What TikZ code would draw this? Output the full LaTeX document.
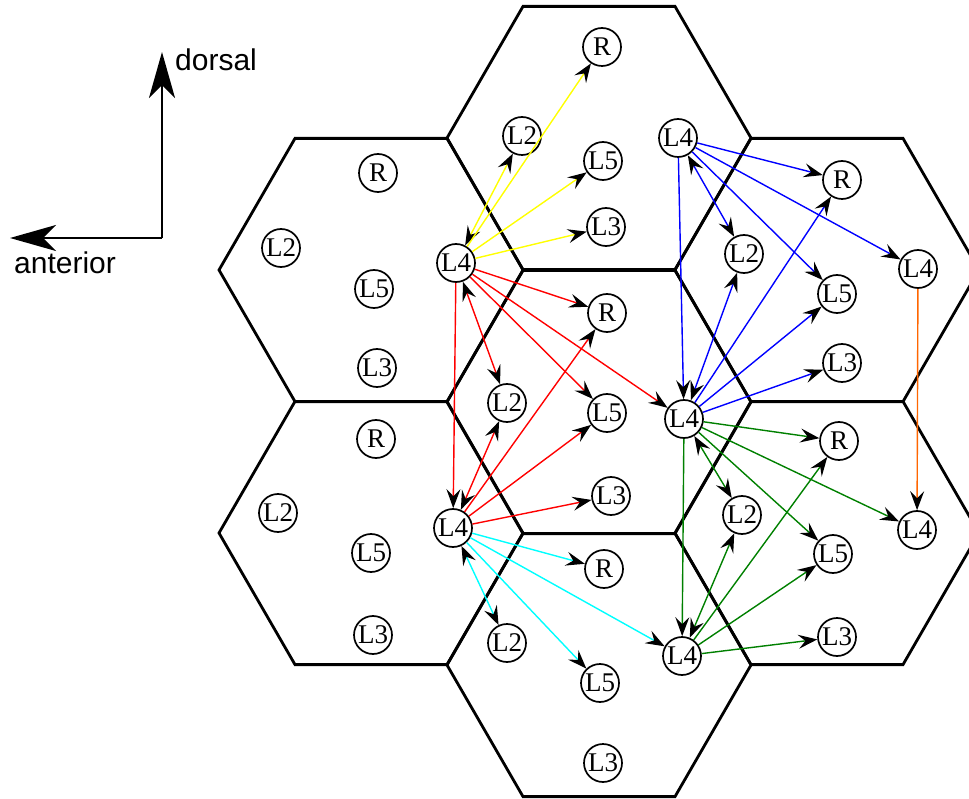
\documentclass[tikz,border=0pt]{standalone}
\usepackage{fontspec}
\setmainfont{Liberation Serif}
\newfontfamily\axisfont{Liberation Sans}
\usetikzlibrary{arrows.meta}
\definecolor{dgreen}{RGB}{0,128,0}
\definecolor{orng}{RGB}{255,102,0}
\definecolor{ylw}{RGB}{255,255,0}
\definecolor{cyn}{RGB}{0,255,255}
\begin{document}
\begin{tikzpicture}[x=1pt,y=-1pt,
  hexa/.style={line width=2.8pt, line join=miter},
  nd/.style={circle, draw, line width=1.7pt, minimum size=38pt, inner sep=0pt, fill=white, font=\fontsize{27}{27}\selectfont},
  con/.style={line width=1.4pt},
  tip/.style={-{Stealth[length=19pt,width=14pt,inset=7pt,color=black]}},
  dtip/.style={{Stealth[length=19pt,width=14pt,inset=7pt,color=black]}-{Stealth[length=19pt,width=14pt,inset=7pt,color=black]}},
  axis/.style={line width=2.8pt, -{Stealth[length=46pt,width=26pt,inset=13pt]}},
  axlabel/.style={inner sep=0pt, font=\axisfont\fontsize{30}{30}\selectfont}
]
\useasboundingbox (0,0) rectangle (969,799);
\begin{scope}
\clip (0,0) rectangle (969,799);
\foreach \cx/\cy in {371/270, 371/533, 599/138, 599/402, 599/665, 827/270, 827/533}{
  \draw[hexa] (\cx-152,\cy) -- (\cx-76,\cy-131.6) -- (\cx+76,\cy-131.6) -- (\cx+152,\cy) -- (\cx+76,\cy+131.6) -- (\cx-76,\cy+131.6) -- cycle;
}
\end{scope}

% axes
\coordinate (corner) at (162,238);
\coordinate (up) at (162,52);
\coordinate (left) at (10,238);
\draw[axis] (corner) -- (up);
\draw[axis] (corner) -- (left);
\node[axlabel, anchor=base west] (dorsal) at (175,71) {dorsal};
\node[axlabel, anchor=base west] (anterior) at (14,274) {anterior};

% upper-left hex
\node[nd] (ulR) at (378,173) {R};
\node[nd] (ulL2) at (281,248) {L2};
\node[nd] (ulL5) at (374,289) {L5};
\node[nd] (ulL3) at (377,368) {L3};
% lower-left hex
\node[nd] (llR) at (376,439) {R};
\node[nd] (llL2) at (278,513) {L2};
\node[nd] (llL5) at (371,553) {L5};
\node[nd] (llL3) at (373,635) {L3};
% middle top hex
\node[nd] (mtR) at (602,47) {R};
\node[nd] (mtL2) at (522,136) {L2};
\node[nd] (mtL5) at (603,161) {L5};
\node[nd] (mtL3) at (606,227) {L3};
% middle center hex
\node[nd] (mcR) at (607,313) {R};
\node[nd] (mcL2) at (507,403) {L2};
\node[nd] (mcL5) at (607,413) {L5};
\node[nd] (mcL3) at (611,496) {L3};
% middle bottom hex
\node[nd] (mbR) at (604,569) {R};
\node[nd] (mbL2) at (507,643) {L2};
\node[nd] (mbL5) at (600,683) {L5};
\node[nd] (mbL3) at (603,763) {L3};
% upper right hex
\node[nd] (urR) at (842,180) {R};
\node[nd] (urL2) at (744,254) {L2};
\node[nd] (urL5) at (837,294) {L5};
\node[nd] (urL3) at (842,363) {L3};
\node[nd] (urL4) at (918,269) {L4};
% lower right hex
\node[nd] (lrR) at (839,441) {R};
\node[nd] (lrL2) at (742,515) {L2};
\node[nd] (lrL5) at (833,554) {L5};
\node[nd] (lrL3) at (837,637) {L3};
\node[nd] (lrL4) at (917,530) {L4};
% L4 hubs
\node[nd] (A) at (456,263) {L4};
\node[nd] (B) at (453,528) {L4};
\node[nd] (C) at (678,138) {L4};
\node[nd] (D) at (684,419) {L4};
\node[nd] (E) at (682,656) {L4};

% yellow
\draw[con,ylw,dtip] (A) -- (mtL2);
\draw[con,ylw,tip] (A) -- (mtR);
\draw[con,ylw,tip] (A) -- (mtL5);
\draw[con,ylw,tip] (A) -- (mtL3);
% red
\draw[con,red,tip] (A) -- (mcR);
\draw[con,red,tip] (A) -- (D);
\draw[con,red,tip] (A) -- (mcL5);
\draw[con,red,dtip] (A) -- (mcL2);
\draw[con,red,tip] (A) -- (B);
\draw[con,red,dtip] (B) -- (mcL2);
\draw[con,red,tip] (B) -- (mcR);
\draw[con,red,tip] (B) -- (mcL5);
\draw[con,red,tip] (B) -- (mcL3);
% cyan
\draw[con,cyn,tip] (B) -- (mbR);
\draw[con,cyn,tip] (B) -- (E);
\draw[con,cyn,tip] (B) -- (mbL5);
\draw[con,cyn,dtip] (B) -- (mbL2);
% blue
\draw[con,blue,tip] (C) -- (urR);
\draw[con,blue,tip] (C) -- (urL4);
\draw[con,blue,tip] (C) -- (urL5);
\draw[con,blue,dtip] (C) -- (urL2);
\draw[con,blue,tip] (C) -- (D);
\draw[con,blue,dtip] (D) -- (urL2);
\draw[con,blue,tip] (D) -- (urR);
\draw[con,blue,tip] (D) -- (urL5);
\draw[con,blue,tip] (D) -- (urL3);
% green
\draw[con,dgreen,tip] (D) -- (lrR);
\draw[con,dgreen,tip] (D) -- (lrL4);
\draw[con,dgreen,tip] (D) -- (lrL5);
\draw[con,dgreen,dtip] (D) -- (lrL2);
\draw[con,dgreen,tip] (D) -- (E);
\draw[con,dgreen,dtip] (E) -- (lrL2);
\draw[con,dgreen,tip] (E) -- (lrR);
\draw[con,dgreen,tip] (E) -- (lrL5);
\draw[con,dgreen,tip] (E) -- (lrL3);
% orange
\draw[con,orng,tip] (urL4) -- (lrL4);
\end{tikzpicture}
\end{document}
